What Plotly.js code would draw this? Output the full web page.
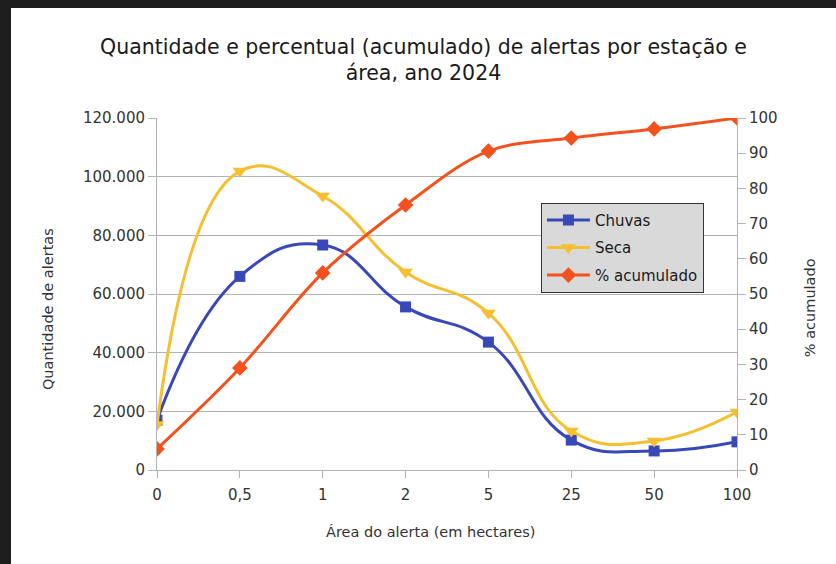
<!DOCTYPE html>
<html>
<head>
<meta charset="utf-8">
<script src="https://cdn.plot.ly/plotly-3.0.1.min.js"></script>
<style>
html,body{margin:0;padding:0;background:#1e1e1e;width:836px;height:564px;overflow:hidden;}
#chart{position:absolute;left:11px;top:8px;width:825px;height:556px;background:#fff;}
</style>
</head>
<body>
<div id="chart"></div>
<script>
const categories = ['0', '0,5', '1', '2', '5', '25', '50', '100'];
const chuvas = [17000, 66000, 76700, 55600, 43600, 10200, 6500, 9600];
const seca = [15500, 101900, 93400, 67500, 53500, 13300, 9900, 19800];
const acumulado = [6.0, 29.0, 56.0, 75.3, 90.6, 94.3, 96.9, 100];
const seriesNames = ['Chuvas', 'Seca', '% acumulado'];
const xTitle = 'Área do alerta (em hectares)';
const yTitle = 'Quantidade de alertas';
const y2Title = '% acumulado';

const font = 'DejaVu Sans, Liberation Sans, Arial, sans-serif';
const gray = '#b3b3b3';

const traces = [
  {x: categories, y: chuvas, name: seriesNames[0], legendgroup: 'a', type: 'scatter', mode: 'lines+markers',
   line: {color: '#3848b8', width: 3, shape: 'spline', smoothing: 1.3},
   marker: {symbol: 'square', size: 11, color: '#3848b8'}},
  {x: categories, y: seca, name: seriesNames[1], legendgroup: 'b', type: 'scatter', mode: 'lines+markers',
   line: {color: '#f6bf2f', width: 3, shape: 'spline', smoothing: 1.3},
   marker: {symbol: 'triangle-down', size: 13, color: '#f6bf2f'}},
  {x: categories, y: acumulado, name: seriesNames[2], legendgroup: 'c', type: 'scatter', mode: 'lines+markers', yaxis: 'y2',
   line: {color: '#f4511e', width: 3, shape: 'spline', smoothing: 1},
   marker: {symbol: 'diamond', size: 12, color: '#f4511e'}}
];

const layout = {
  width: 825, height: 556,
  paper_bgcolor: '#ffffff', plot_bgcolor: '#ffffff',
  separators: ',.',
  margin: {l: 146, r: 99, t: 110, b: 94},
  font: {family: font, color: '#333333', size: 15},
  title: {text: 'Quantidade e percentual (acumulado) de alertas por estação e<br>área, ano 2024',
          x: 0.5, xref: 'container', xanchor: 'center', y: 0.918, yref: 'container', yanchor: 'top',
          font: {family: font, size: 20.5, color: '#1a1a1a'}},
  xaxis: {type: 'category', categoryorder: 'array', categoryarray: categories, range: [0, 7],
          showgrid: false, showline: true, linecolor: gray, ticks: 'outside', ticklen: 7, tickcolor: gray,
          tickfont: {size: 15, color: '#333'}, zeroline: false, ticklabelstandoff: 4},
  yaxis: {range: [0, 120000], dtick: 20000, tickformat: ',d', showgrid: true, gridcolor: gray,
          showline: true, linecolor: gray, ticks: 'outside', ticklen: 8, tickcolor: gray, zeroline: false,
          tickfont: {size: 15, color: '#333'}},
  yaxis2: {range: [0, 100], dtick: 10, overlaying: 'y', side: 'right', showgrid: false,
           showline: true, linecolor: gray, ticks: 'outside', ticklen: 8, tickcolor: gray, zeroline: false,
           tickfont: {size: 15, color: '#333'}},
  annotations: [
    {text: xTitle, xref: 'paper', yref: 'paper', x: 0.471, y: -0.177, xanchor: 'center', yanchor: 'middle',
     showarrow: false, font: {size: 14.5, color: '#333'}},
    {text: yTitle, xref: 'paper', yref: 'paper', x: -0.188, y: 0.457, xanchor: 'center', yanchor: 'middle',
     textangle: -90, showarrow: false, font: {size: 14.5, color: '#333'}},
    {text: y2Title, xref: 'paper', yref: 'paper', x: 1.126, y: 0.46, xanchor: 'center', yanchor: 'middle',
     textangle: -90, showarrow: false, font: {size: 14.5, color: '#333'}}
  ],
  legend: {x: 0.662, y: 0.759, xanchor: 'left', yanchor: 'top', bgcolor: '#d9d9d9', itemwidth: 43,
           bordercolor: '#333', borderwidth: 1, font: {size: 15, color: '#1a1a1a'}, tracegroupgap: 5},
  showlegend: true
};

Plotly.newPlot('chart', traces, layout, {staticPlot: true, displayModeBar: false});
</script>
</body>
</html>
